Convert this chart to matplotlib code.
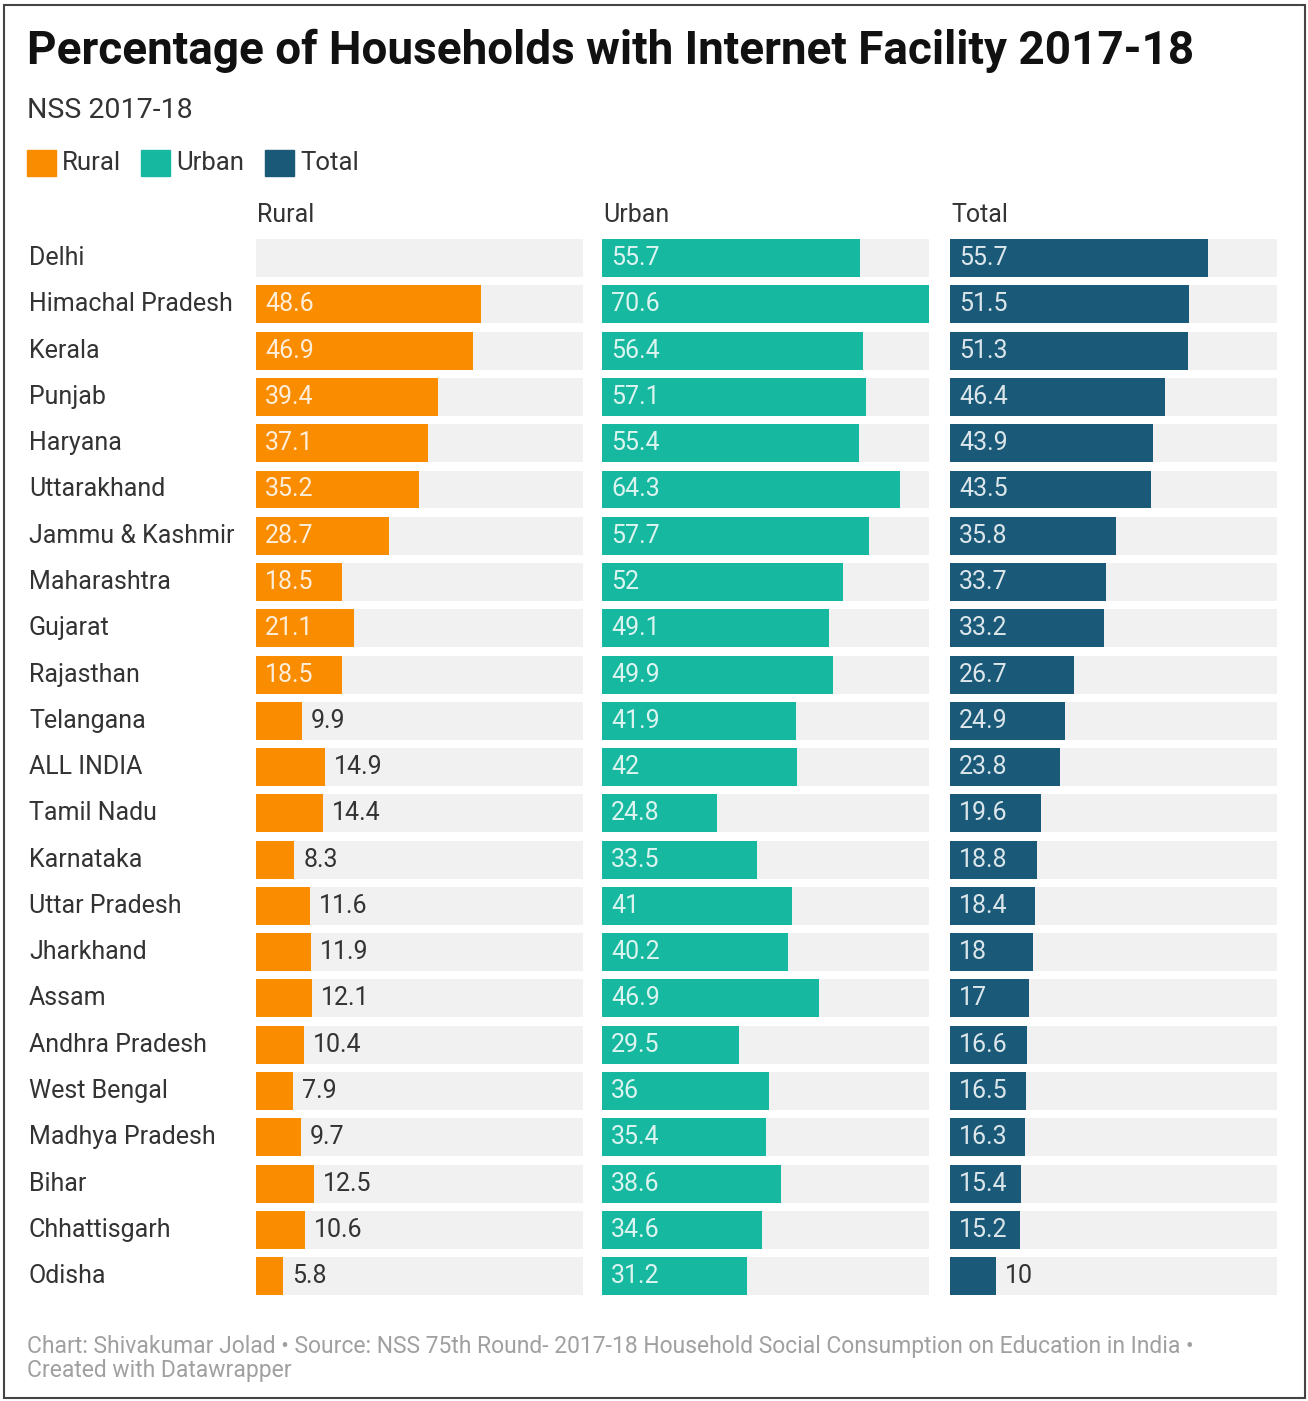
import matplotlib
matplotlib.use("Agg")
import matplotlib.pyplot as plt
import matplotlib.transforms as mtransforms
from matplotlib.patches import Rectangle

plt.rcParams['font.family'] = ['Roboto', 'DejaVu Sans']

# data
states = ['Delhi', 'Himachal Pradesh', 'Kerala', 'Punjab', 'Haryana', 'Uttarakhand',
          'Jammu & Kashmir', 'Maharashtra', 'Gujarat', 'Rajasthan', 'Telangana',
          'ALL INDIA', 'Tamil Nadu', 'Karnataka', 'Uttar Pradesh', 'Jharkhand', 'Assam',
          'Andhra Pradesh', 'West Bengal', 'Madhya Pradesh', 'Bihar', 'Chhattisgarh', 'Odisha']
rural = [None, 48.6, 46.9, 39.4, 37.1, 35.2, 28.7, 18.5, 21.1, 18.5, 9.9, 14.9, 14.4,
         8.3, 11.6, 11.9, 12.1, 10.4, 7.9, 9.7, 12.5, 10.6, 5.8]
urban = [55.7, 70.6, 56.4, 57.1, 55.4, 64.3, 57.7, 52, 49.1, 49.9, 41.9, 42, 24.8,
         33.5, 41, 40.2, 46.9, 29.5, 36, 35.4, 38.6, 34.6, 31.2]
total = [55.7, 51.5, 51.3, 46.4, 43.9, 43.5, 35.8, 33.7, 33.2, 26.7, 24.9, 23.8, 19.6,
         18.8, 18.4, 18, 17, 16.6, 16.5, 16.3, 15.4, 15.2, 10]

series = ['Rural', 'Urban', 'Total']
colors = ['#fa8c00', '#17b8a0', '#1a5a78']

W, H = 1308, 1401
fig = plt.figure(figsize=(W / 100, H / 100), dpi=100)


def px(x, y, w, h):
    # pixel box (from top-left) -> figure fraction
    return [x / W, 1 - (y + h) / H, w / W, h / H]


# outer frame
fig.patches.append(Rectangle((4 / W, 1 - 1398 / H), 1301 / W, 1393 / H,
                             transform=fig.transFigure, fill=False,
                             edgecolor='#444444', linewidth=1.5))

fig.text(27 / W, 1 - 51 / H, 'Percentage of Households with Internet Facility 2017-18',
         fontsize=33, fontweight='bold', color='#111111', va='center', ha='left')
fig.text(27 / W, 1 - 110 / H, 'NSS 2017-18', fontsize=20.5, color='#333333',
         va='center', ha='left')

# legend
lx = [27, 141, 265]
for x0, name, c in zip(lx, series, colors):
    fig.patches.append(Rectangle((x0 / W, 1 - 176 / H), 29 / W, 26 / H,
                                 transform=fig.transFigure, color=c))
    fig.text((x0 + 35) / W, 1 - 163 / H, name, fontsize=18.5, color='#333333',
             va='center', ha='left')

panel_x = [256, 602, 950]
panel_w = 327
top, row_h = 235, 46.27
n = len(states)
xmax = 70.6
fs = 18

axes = []
for k, (vals, c, name) in enumerate(zip([rural, urban, total], colors, series)):
    ax = fig.add_axes(px(panel_x[k], top, panel_w, n * row_h))
    ax.set_xlim(0, xmax)
    ax.set_ylim(n - 0.5, -0.5)
    ax.axis('off')
    ys = list(range(n))
    ax.barh(ys, [xmax] * n, height=0.82, color='#f1f1f1', linewidth=0)
    for i, v in enumerate(vals):
        if v is None:
            continue
        ax.barh(i, v, height=0.82, color=c, linewidth=0)
        lab = f'{v:g}'
        if v >= 15:
            ax.annotate(lab, (0, i), xytext=(6.5, 0), textcoords='offset points',
                        va='center', ha='left', fontsize=fs, color='white', alpha=0.85)
        else:
            ax.annotate(lab, (v, i), xytext=(6.5, 0), textcoords='offset points',
                        va='center', ha='left', fontsize=fs, color='#333333')
    fig.text((panel_x[k] + 1) / W, 1 - 215 / H, name, fontsize=fs, color='#333333',
             va='center', ha='left')
    axes.append(ax)

# row labels
tr = mtransforms.blended_transform_factory(fig.transFigure, axes[0].transData)
for i, s in enumerate(states):
    axes[0].text(29 / W, i, s, transform=tr, fontsize=fs, color='#333333',
                 va='center', ha='left', clip_on=False)

fig.text(27 / W, 1 - 1346 / H,
         'Chart: Shivakumar Jolad \u2022 Source: NSS 75th Round- 2017-18 Household Social '
         'Consumption on Education in India \u2022', fontsize=16.5, color='#a0a0a0',
         va='center', ha='left')
fig.text(27 / W, 1 - 1371 / H, 'Created with Datawrapper', fontsize=16.5,
         color='#a0a0a0', va='center', ha='left')

fig.savefig('out.png', dpi=100, facecolor='white')
